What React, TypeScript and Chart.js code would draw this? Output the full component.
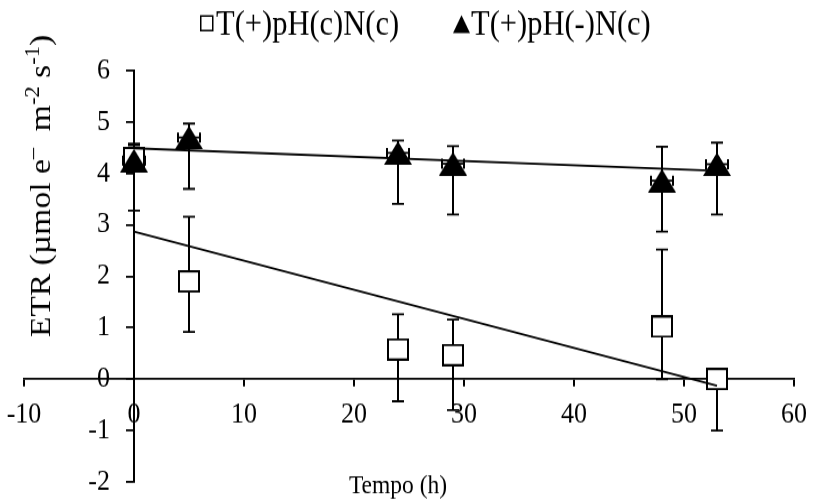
import React, { useEffect, useRef } from 'react';
import { Chart, registerables } from 'chart.js';

Chart.register(...registerables);

// ---------------- data ----------------
const timeHours = [0, 5, 24, 29, 48, 53];

const etrSquare = [4.3, 1.9, 0.58, 0.47, 1.02, 0];
const squareErrPlus = [0.25, 1.26, 0.68, 0.69, 1.5, 0];
const squareErrMinus = [0.25, 0.98, 1.01, 1.07, 1.02, 1.0];

const etrTriangle = [4.25, 4.7, 4.4, 4.19, 3.86, 4.18];
const triangleErrPlus = [0.33, 0.27, 0.24, 0.34, 0.66, 0.42];
const triangleErrMinus = [0.97, 1.0, 0.99, 0.99, 0.99, 0.98];
const triangleErrX = [1, 1, 1, 1, 1, 1];

const trendX = [0, 53];
const trendSquareY = [2.87, -0.13];
const trendTriangleY = [4.49, 4.05];

const seriesLabels = ['T(+)pH(c)N(c)', 'T(+)pH(-)N(c)'];
const xTitle = 'Tempo (h)';
const yTitleParts = [
  { t: 'ETR (\u00B5mol e', sup: false },
  { t: '\u2013', sup: true },
  { t: '  m', sup: false },
  { t: '-2', sup: true },
  { t: ' s', sup: false },
  { t: '-1', sup: true },
  { t: ')', sup: false },
];
const xTickValues = [-10, 0, 10, 20, 30, 40, 50, 60];
const xTickLabels = ['-10', '0', '10', '20', '30', '40', '50', '60'];
const yTickValues = [-2, -1, 0, 1, 2, 3, 4, 5, 6];
const yTickLabels = ['-2', '-1', '0', '1', '2', '3', '4', '5', '6'];

// ---------------- layout ----------------
const W = 815;
const H = 501;
const CH = 447;
const SY = H / CH;
const FONT = '"Liberation Serif", "Times New Roman", serif';

function makeSquare(w: number, h: number) {
  const c = document.createElement('canvas');
  c.width = w;
  c.height = h;
  const g = c.getContext('2d')!;
  g.fillStyle = '#fff';
  g.fillRect(0, 0, w, h);
  g.strokeStyle = '#000';
  g.lineWidth = 2;
  g.strokeRect(1, 1, w - 2, h - 2);
  return c;
}

function makeTriangle(w: number, h: number) {
  const c = document.createElement('canvas');
  c.width = w;
  c.height = h;
  const g = c.getContext('2d')!;
  g.fillStyle = '#000';
  g.beginPath();
  g.moveTo(w / 2, 0);
  g.lineTo(w, h);
  g.lineTo(0, h);
  g.closePath();
  g.fill();
  return c;
}

const errorBarPlugin = {
  id: 'errorBars',
  beforeDatasetsDraw(chart: any) {
    const { ctx } = chart;
    const xs = chart.scales.x;
    const ys = chart.scales.y;
    ctx.save();
    ctx.strokeStyle = '#000';
    chart.data.datasets.forEach((ds: any) => {
      if (!ds.errPlus) return;
      ds.data.forEach((p: any, i: number) => {
        const px = xs.getPixelForValue(p.x);
        const py = ys.getPixelForValue(p.y);
        const top = ys.getPixelForValue(p.y + ds.errPlus[i]);
        const bot = ys.getPixelForValue(p.y - ds.errMinus[i]);
        ctx.lineWidth = 2;
        ctx.beginPath();
        ctx.moveTo(px, top);
        ctx.lineTo(px, bot);
        ctx.stroke();
        ctx.lineWidth = 1.8;
        ctx.beginPath();
        if (ds.errPlus[i] > 0) {
          ctx.moveTo(px - 6, top);
          ctx.lineTo(px + 6, top);
        }
        if (ds.errMinus[i] > 0) {
          ctx.moveTo(px - 6, bot);
          ctx.lineTo(px + 6, bot);
        }
        ctx.stroke();
        if (ds.errX) {
          const l = xs.getPixelForValue(p.x - ds.errX[i]);
          const r = xs.getPixelForValue(p.x + ds.errX[i]);
          ctx.lineWidth = 1.8;
          ctx.beginPath();
          ctx.moveTo(l, py);
          ctx.lineTo(r, py);
          ctx.stroke();
          ctx.lineWidth = 2;
          ctx.beginPath();
          ctx.moveTo(l, py - 4.5);
          ctx.lineTo(l, py + 4.5);
          ctx.moveTo(r, py - 4.5);
          ctx.lineTo(r, py + 4.5);
          ctx.stroke();
        }
      });
    });
    ctx.restore();
  },
};

const textPlugin = {
  id: 'texts',
  afterDraw(chart: any) {
    const { ctx } = chart;
    const xs = chart.scales.x;
    const ys = chart.scales.y;
    ctx.save();
    ctx.fillStyle = '#000';
    ctx.strokeStyle = '#000';

    // tick labels
    const x0 = xs.getPixelForValue(0);
    const y0 = ys.getPixelForValue(0);
    ctx.font = `26px ${FONT}`;
    ctx.textBaseline = 'middle';
    ctx.textAlign = 'right';
    yTickValues.forEach((v, i) => {
      ctx.fillText(yTickLabels[i], x0 - 24, ys.getPixelForValue(v));
    });
    ctx.textAlign = 'center';
    xTickValues.forEach((v, i) => {
      ctx.fillText(xTickLabels[i], xs.getPixelForValue(v), y0 + 32);
    });

    // y title (rotated)
    ctx.textBaseline = 'alphabetic';
    const mainSize = 30;
    const supSize = 20;
    let total = 0;
    yTitleParts.forEach((p) => {
      ctx.font = `${p.sup ? supSize : mainSize}px ${FONT}`;
      total += ctx.measureText(p.t).width;
    });
    ctx.translate(50, 166);
    ctx.rotate(-Math.PI / 2);
    ctx.textAlign = 'left';
    let x = -total / 2;
    yTitleParts.forEach((p) => {
      ctx.font = `${p.sup ? supSize : mainSize}px ${FONT}`;
      ctx.fillText(p.t, x, p.sup ? -11 : 0);
      x += ctx.measureText(p.t).width;
    });
    ctx.setTransform(1, 0, 0, 1, 0, 0);

    // x title
    ctx.font = `23.5px ${FONT}`;
    ctx.textAlign = 'center';
    ctx.fillText(xTitle, 398, 440);

    // legend
    ctx.textAlign = 'left';
    ctx.font = `30.5px ${FONT}`;
    ctx.lineWidth = 1.5;
    ctx.strokeRect(200.75, 14.25, 12, 13);
    ctx.fillText(seriesLabels[0], 216, 31);
    ctx.beginPath();
    ctx.moveTo(461.5, 13.4);
    ctx.lineTo(470, 29.5);
    ctx.lineTo(453, 29.5);
    ctx.closePath();
    ctx.fill();
    ctx.fillText(seriesLabels[1], 471, 31);
    ctx.restore();
  },
};

export default function App() {
  const ref = useRef<HTMLCanvasElement>(null);

  useEffect(() => {
    const canvas = ref.current!;
    const sq = makeSquare(22, 20);
    const tri = makeTriangle(28, 21);
    const chart = new Chart(canvas, {
      type: 'scatter',
      data: {
        datasets: [
          {
            label: 'trend ' + seriesLabels[0],
            data: trendX.map((v, i) => ({ x: v, y: trendSquareY[i] })),
            showLine: true,
            borderColor: '#000',
            borderWidth: 1.8,
            pointRadius: 0,
            order: 0,
          } as any,
          {
            label: 'trend ' + seriesLabels[1],
            data: trendX.map((v, i) => ({ x: v, y: trendTriangleY[i] })),
            showLine: true,
            borderColor: '#000',
            borderWidth: 1.8,
            pointRadius: 0,
            order: 0,
          } as any,
          {
            label: seriesLabels[1],
            data: timeHours.map((v, i) => ({ x: v, y: etrTriangle[i] })),
            pointStyle: tri,
            pointRadius: 14,
            showLine: false,
            errPlus: triangleErrPlus,
            errMinus: triangleErrMinus,
            errX: triangleErrX,
            order: 1,
          } as any,
          {
            label: seriesLabels[0],
            data: timeHours.map((v, i) => ({ x: v, y: etrSquare[i] })),
            pointStyle: sq,
            pointRadius: 11,
            showLine: false,
            errPlus: squareErrPlus,
            errMinus: squareErrMinus,
            order: 2,
          } as any,
        ],
      },
      options: {
        responsive: false,
        maintainAspectRatio: false,
        devicePixelRatio: 1,
        animation: false,
        layout: { padding: { left: 24, right: 21, top: 63, bottom: 17 } },
        plugins: { legend: { display: false }, tooltip: { enabled: false } },
        scales: {
          x: {
            type: 'linear',
            min: xTickValues[0],
            max: xTickValues[xTickValues.length - 1],
            position: { y: 0 } as any,
            border: { display: true, color: '#000', width: 1.8 },
            grid: { display: true, drawOnChartArea: false, drawTicks: true, tickLength: 6, color: '#000', lineWidth: 2 },
            ticks: { stepSize: 10, display: false, autoSkip: false, maxRotation: 0 },
          },
          y: {
            type: 'linear',
            min: yTickValues[0],
            max: yTickValues[yTickValues.length - 1],
            position: { x: 0 } as any,
            border: { display: true, color: '#000', width: 2 },
            grid: { display: true, drawOnChartArea: false, drawTicks: true, tickLength: 7, color: '#000', lineWidth: 1.8 },
            ticks: { stepSize: 1, display: false, autoSkip: false },
          },
        },
      },
      plugins: [errorBarPlugin, textPlugin],
    });
    return () => chart.destroy();
  }, []);

  return (
    <div style={{ position: 'absolute', left: 0, top: 0, width: W, height: H, overflow: 'hidden', background: '#fff' }}>
      <canvas
        ref={ref}
        width={W}
        height={CH}
        style={{ display: 'block', transform: `scaleY(${SY})`, transformOrigin: '0 0' }}
      />
    </div>
  );
}
